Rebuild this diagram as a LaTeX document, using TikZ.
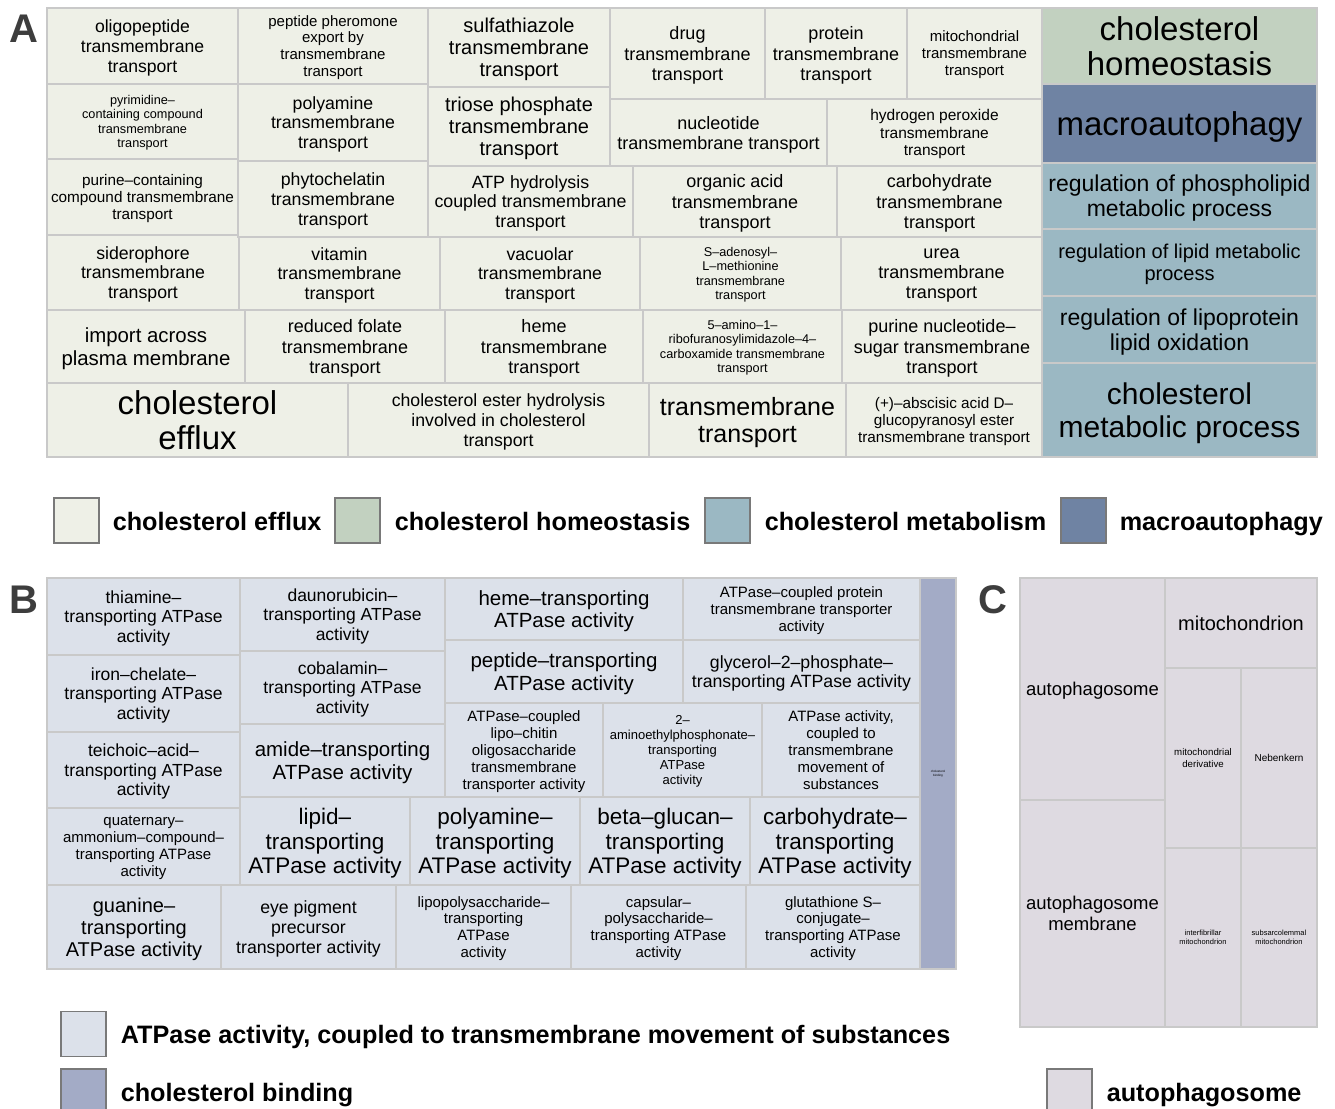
\documentclass[tikz,border=0pt]{standalone}
\usepackage{fontspec}
\setmainfont{Liberation Sans}
\usetikzlibrary{positioning}

\definecolor{efflux}{HTML}{EEF0E7}
\definecolor{homeo}{HTML}{C2D1C0}
\definecolor{metab}{HTML}{9BB8C3}
\definecolor{macro}{HTML}{6F83A3}
\definecolor{atpase}{HTML}{DCE1EA}
\definecolor{binding}{HTML}{A3ABC6}
\definecolor{autoph}{HTML}{DEDAE1}
\definecolor{cellline}{HTML}{C9C9C9}
\definecolor{labelgray}{HTML}{3D3D3D}

% name, colour, x1, y1, x2, y2, font size, text
\newcommand{\treecell}[8]{%
  \draw[cell, fill=#2] (#3,#4) rectangle (#5,#6);
  \pgfmathsetmacro{\cellskip}{1.03*#7+1.5}%
  \node[cell text, font=\fontsize{#7}{\cellskip}\selectfont] (#1) at ({(#3+#5)/2},{(#4+#6)/2}) {#8};}

\begin{document}
\begin{tikzpicture}[x=1pt, y=-1pt,
        cell/.style={
                draw=cellline,
                line width=1.4pt
            },
        cell text/.style={
                align=center,
                inner sep=0pt,
                text depth=0pt,
                text=black
            },
        legend box/.style={
                draw=gray!95!black,
                line width=1.2pt,
                minimum size=45pt,
                inner sep=0pt
            },
        legend text/.style={
                font=\fontsize{25.2}{28}\selectfont\bfseries,
                inner sep=0pt,
                text height=19pt,
                text depth=0pt,
                anchor=west
            },
        panel label/.style={
                font=\fontsize{40}{44}\selectfont\bfseries,
                text=labelgray,
                inner sep=0pt
            }]
    \useasboundingbox (0,0) rectangle (1335,1108);

    % panel A
    \node [panel label] (labA) at (24,29) {A};
    \treecell{oligo}{efflux}{47}{8}{238}{84}{17.6}{oligopeptide\\transmembrane\\transport}
    \treecell{pyrim}{efflux}{47}{84}{238}{159}{12.7}{pyrimidine–\\containing compound\\transmembrane\\transport}
    \treecell{purcont}{efflux}{47}{159}{238}{235}{15.3}{purine–containing\\compound transmembrane\\transport}
    \treecell{sidero}{efflux}{47}{235}{239}{310}{17.7}{siderophore\\transmembrane\\transport}
    \treecell{pherom}{efflux}{238}{8}{428}{84}{15}{peptide pheromone\\export by\\transmembrane\\transport}
    \treecell{polyam}{efflux}{238}{84}{428}{161}{17.7}{polyamine\\transmembrane\\transport}
    \treecell{phyto}{efflux}{238}{161}{428}{237}{17.7}{phytochelatin\\transmembrane\\transport}
    \treecell{sulfa}{efflux}{428}{8}{610}{87}{20}{sulfathiazole\\transmembrane\\transport}
    \treecell{triose}{efflux}{428}{87}{610}{166}{20}{triose phosphate\\transmembrane\\transport}
    \treecell{drug}{efflux}{610}{8}{765}{99}{18}{drug\\transmembrane\\transport}
    \treecell{protein}{efflux}{765}{8}{907}{99}{18}{protein\\transmembrane\\transport}
    \treecell{mito}{efflux}{907}{8}{1042}{99}{15}{mitochondrial\\transmembrane\\transport}
    \treecell{nucleo}{efflux}{610}{99}{827}{166}{18}{nucleotide\\transmembrane transport}
    \treecell{hperox}{efflux}{827}{99}{1042}{166}{15.5}{hydrogen peroxide\\transmembrane\\transport}
    \treecell{atphyd}{efflux}{428}{166}{633}{237}{17.8}{ATP hydrolysis\\coupled transmembrane\\transport}
    \treecell{organic}{efflux}{633}{166}{837}{237}{18}{organic acid\\transmembrane\\transport}
    \treecell{carbo}{efflux}{837}{166}{1042}{237}{18}{carbohydrate\\transmembrane\\transport}
    \treecell{vitamin}{efflux}{239}{237}{440}{310}{17.7}{vitamin\\transmembrane\\transport}
    \treecell{vacuolar}{efflux}{440}{237}{640}{310}{17.7}{vacuolar\\transmembrane\\transport}
    \treecell{sadeno}{efflux}{640}{237}{841}{310}{12.7}{S–adenosyl–\\L–methionine\\transmembrane\\transport}
    \treecell{urea}{efflux}{841}{237}{1042}{310}{18}{urea\\transmembrane\\transport}
    \treecell{import}{efflux}{47}{310}{245}{383}{20.4}{import across\\plasma membrane}
    \treecell{folate}{efflux}{245}{310}{445}{383}{18}{reduced folate\\transmembrane\\transport}
    \treecell{heme}{efflux}{445}{310}{643}{383}{18}{heme\\transmembrane\\transport}
    \treecell{aicar}{efflux}{643}{310}{842}{383}{12.7}{5–amino–1–\\ribofuranosylimidazole–4–\\carboxamide transmembrane\\transport}
    \treecell{purnuc}{efflux}{842}{310}{1042}{383}{18}{purine nucleotide–\\sugar transmembrane\\transport}
    \treecell{efflux}{efflux}{47}{383}{348}{457}{33}{cholesterol\\efflux}
    \treecell{ester}{efflux}{348}{383}{649}{457}{17.7}{cholesterol ester hydrolysis\\involved in cholesterol\\transport}
    \treecell{tmtrans}{efflux}{649}{383}{846}{457}{25}{transmembrane\\transport}
    \treecell{absc}{efflux}{846}{383}{1042}{457}{15.3}{(+)–abscisic acid D–\\glucopyranosyl ester\\transmembrane transport}
    \treecell{homeo}{homeo}{1042}{8}{1317}{84}{33}{cholesterol\\homeostasis}
    \treecell{macro}{macro}{1042}{84}{1317}{163}{33}{macroautophagy}
    \treecell{phospho}{metab}{1042}{163}{1317}{229}{23}{regulation of phospholipid\\metabolic process}
    \treecell{lipidmet}{metab}{1042}{229}{1317}{296}{20}{regulation of lipid metabolic\\process}
    \treecell{lipoprot}{metab}{1042}{296}{1317}{363}{23}{regulation of lipoprotein\\lipid oxidation}
    \treecell{cholmet}{metab}{1042}{363}{1317}{457}{30}{cholesterol\\metabolic process}

    % legend A
    \node [legend box, fill=efflux] (keyeff) at (76.5,520.5) {};
    \node [legend text, right=13pt of keyeff] (txteff) {cholesterol efflux};
    \node [legend box, fill=homeo] (keyhom) at (357.5,520.5) {};
    \node [legend text, right=14pt of keyhom] (txthom) {cholesterol homeostasis};
    \node [legend box, fill=metab] (keymet) at (727.5,520.5) {};
    \node [legend text, right=14pt of keymet] (txtmet) {cholesterol metabolism};
    \node [legend box, fill=macro] (keymac) at (1083.5,520.5) {};
    \node [legend text, right=13pt of keymac] (txtmac) {macroautophagy};

    % panel B
    \node [panel label] (labB) at (24,600) {B};
    \treecell{thiamine}{atpase}{47}{578}{240}{655}{17.5}{thiamine–\\transporting ATPase\\activity}
    \treecell{ironchel}{atpase}{47}{655}{240}{732}{17.5}{iron–chelate–\\transporting ATPase\\activity}
    \treecell{teichoic}{atpase}{47}{732}{240}{808}{17.5}{teichoic–acid–\\transporting ATPase\\activity}
    \treecell{quatern}{atpase}{47}{808}{240}{885}{15}{quaternary–\\ammonium–compound–\\transporting ATPase\\activity}
    \treecell{dauno}{atpase}{240}{578}{445}{651}{17.5}{daunorubicin–\\transporting ATPase\\activity}
    \treecell{cobal}{atpase}{240}{651}{445}{724}{17.5}{cobalamin–\\transporting ATPase\\activity}
    \treecell{amide}{atpase}{240}{724}{445}{797}{20.5}{amide–transporting\\ATPase activity}
    \treecell{hemeatp}{atpase}{445}{578}{683}{640}{20.5}{heme–transporting\\ATPase activity}
    \treecell{protatp}{atpase}{683}{578}{920}{640}{15}{ATPase–coupled protein\\transmembrane transporter\\activity}
    \treecell{peptatp}{atpase}{445}{640}{683}{703}{20.5}{peptide–transporting\\ATPase activity}
    \treecell{glycerol}{atpase}{683}{640}{920}{703}{17.7}{glycerol–2–phosphate–\\transporting ATPase activity}
    \treecell{lipochit}{atpase}{445}{703}{603}{797}{15}{ATPase–coupled\\lipo–chitin\\oligosaccharide\\transmembrane\\transporter activity}
    \treecell{aep}{atpase}{603}{703}{762}{797}{13}{2–\\aminoethylphosphonate–\\transporting\\ATPase\\activity}
    \treecell{atpcoup}{atpase}{762}{703}{920}{797}{15}{ATPase activity,\\coupled to\\transmembrane\\movement of\\substances}
    \treecell{lipidatp}{atpase}{240}{797}{410}{885}{22.5}{lipid–\\transporting\\ATPase activity}
    \treecell{polyatp}{atpase}{410}{797}{580}{885}{22.5}{polyamine–\\transporting\\ATPase activity}
    \treecell{betaglu}{atpase}{580}{797}{750}{885}{22.5}{beta–glucan–\\transporting\\ATPase activity}
    \treecell{carbatp}{atpase}{750}{797}{920}{885}{22.5}{carbohydrate–\\transporting\\ATPase activity}
    \treecell{guanine}{atpase}{47}{885}{221}{969}{20}{guanine–\\transporting\\ATPase activity}
    \treecell{eyepig}{atpase}{221}{885}{396}{969}{17.7}{eye pigment\\precursor\\transporter activity}
    \treecell{lps}{atpase}{396}{885}{571}{969}{15}{lipopolysaccharide–\\transporting\\ATPase\\activity}
    \treecell{capsular}{atpase}{571}{885}{746}{969}{15}{capsular–\\polysaccharide–\\transporting ATPase\\activity}
    \treecell{gsh}{atpase}{746}{885}{920}{969}{15}{glutathione S–\\conjugate–\\transporting ATPase\\activity}
    \treecell{cholbind}{binding}{920}{578}{956}{969}{3}{cholesterol\\binding}

    % legend B
    \node [legend box, fill=atpase] (keyatp) at (83.5,1034) {};
    \node [legend text, right=14pt of keyatp] (txtatp) {ATPase activity, coupled to transmembrane movement of substances};
    \node [legend box, fill=binding] (keybind) at (83.5,1091.5) {};
    \node [legend text, right=14pt of keybind] (txtbind) {cholesterol binding};

    % panel C
    \node [panel label] (labC) at (993,600) {C};
    \treecell{autoso}{autoph}{1020}{578}{1165}{800}{18.5}{autophagosome}
    \treecell{autosom}{autoph}{1020}{800}{1165}{1027}{18.5}{autophagosome\\membrane}
    \treecell{mitoch}{autoph}{1165}{578}{1317}{668}{20}{mitochondrion}
    \treecell{mitoder}{autoph}{1165}{668}{1241}{848}{9.7}{mitochondrial\\derivative}
    \treecell{neben}{autoph}{1241}{668}{1317}{848}{10}{Nebenkern}
    \treecell{interfib}{autoph}{1165}{848}{1241}{1027}{7.5}{interfibrillar\\mitochondrion}
    \treecell{subsarc}{autoph}{1241}{848}{1317}{1027}{7.5}{subsarcolemmal\\mitochondrion}

    % legend C
    \node [legend box, fill=autoph] (keyaut) at (1069.5,1091.5) {};
    \node [legend text, right=14pt of keyaut] (txtaut) {autophagosome};
\end{tikzpicture}
\end{document}
